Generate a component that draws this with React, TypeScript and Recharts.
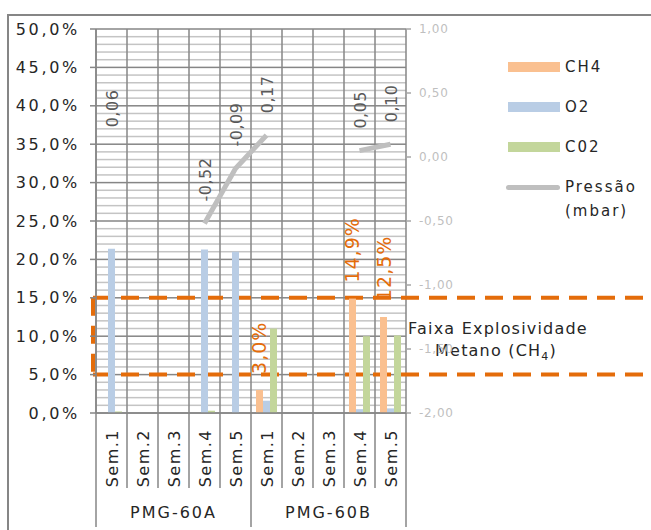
import React from "react";
import {
  ComposedChart, Bar, Line, XAxis, YAxis, Legend, LabelList, ReferenceArea,
} from "recharts";

// ─── Data ─────────────────────────────────────────────────────────────────────
const groups = ["PMG-60A", "PMG-60B"];
const weeks = ["Sem.1", "Sem.2", "Sem.3", "Sem.4", "Sem.5"];
const ch4 = [0.0, null, null, 0.0, 0.0, 3.0, null, null, 14.9, 12.5];
const o2 = [21.4, null, null, 21.3, 21.0, 1.6, null, null, 0.5, 0.6];
const co2 = [0.2, null, null, 0.3, 0.0, 11.0, null, null, 10.0, 10.1];
const pressao = [0.06, null, null, -0.52, -0.09, 0.17, null, null, 0.05, 0.1];
const seriesNames = ["CH4", "O2", "C02", "Pressão (mbar)"];
const pctTicks = [0, 5, 10, 15, 20, 25, 30, 35, 40, 45, 50];
const mbarTicks = [-2, -1.5, -1, -0.5, 0, 0.5, 1];
const faixaCH4 = [5, 15];

const data = groups.flatMap((g, gi) =>
  weeks.map((w, wi) => {
    const i = gi * weeks.length + wi;
    return { id: `${g}|${w}`, group: g, sem: w, ch4: ch4[i], o2: o2[i], co2: co2[i], pressao: pressao[i] };
  })
);

// ─── Style ────────────────────────────────────────────────────────────────────
const FONT = "'DejaVu Sans', Verdana, sans-serif";
const TEXT = "#262626";
const GRID = "#868686";
const MINOR = "#c4c4c4";
const ORANGE = "#E46C0A";
const COLORS = { ch4: "#FAC090", o2: "#B9CDE5", co2: "#C3D69B", pressao: "#BFBFBF" };

const W = 651, H = 530;
const M = { top: 29, right: 185, bottom: 2, left: 0 };
const LEFT_W = 96, RIGHT_W = 60, X_H = 115;
const PLOT_W = W - M.right - RIGHT_W - M.left - LEFT_W;
const BAND = PLOT_W / data.length;
const PCT_MIN = pctTicks[0];
const PCT_MAX = pctTicks[pctTicks.length - 1];
const minorTicks = Array.from({ length: PCT_MAX }, (_, i) => i).filter((v) => v % 5 !== 0);

const fmtPct = (v: number) => `${v.toFixed(1).replace(".", ",")}%`;
const fmtMbar = (v: number) => v.toFixed(2).replace(".", ",");

// ─── Labels / ticks ───────────────────────────────────────────────────────────
function Ch4Label({ x, y, width, value }: any) {
  if (value == null) return null;
  const ax = x + width / 2 + 7, ay = y - 16;
  return (
    <text x={ax} y={ay} transform={`rotate(-90 ${ax} ${ay})`} fill={ORANGE}
      fontSize={19} fontFamily={FONT} letterSpacing={1}>{fmtPct(value)}</text>
  );
}

function PressaoLabel({ x, y, value }: any) {
  if (value == null || y == null) return null;
  const ax = x + 7, ay = y - 22;
  return (
    <text x={ax} y={ay} transform={`rotate(-90 ${ax} ${ay})`} fill="#595959"
      fontSize={16} fontFamily={FONT} letterSpacing={0.5}>{fmtMbar(value)}</text>
  );
}

function SemTick({ x, y, index }: any) {
  const d = data[index];
  if (!d) return null;
  const pos = index % weeks.length;
  const left = x - BAND / 2;
  const ax = x + 6, ay = y + 16;
  return (
    <g>
      <line x1={left} y1={y} x2={left} y2={y + (pos === 0 ? 114 : 75)} stroke={GRID} strokeWidth={1.5} />
      {index === data.length - 1 && (
        <line x1={x + BAND / 2} y1={y} x2={x + BAND / 2} y2={y + 114} stroke={GRID} strokeWidth={1.5} />
      )}
      <text x={ax} y={ay} transform={`rotate(-90 ${ax} ${ay})`} textAnchor="end" fill={TEXT}
        fontSize={16} fontFamily={FONT} letterSpacing={1.5}>{d.sem}</text>
      {pos === Math.floor(weeks.length / 2) && (
        <text x={x} y={y + 105} textAnchor="middle" fill={TEXT} fontSize={16} fontFamily={FONT}
          letterSpacing={2}>{d.group}</text>
      )}
    </g>
  );
}

// plot grid: minor 1% rows, major 5% rows, and category boundaries
function GridShape({ x, y, width, height }: any) {
  const top = Math.min(y, y + height);
  const h = Math.abs(height);
  const row = (v: number) => top + (h * (PCT_MAX - v)) / (PCT_MAX - PCT_MIN);
  const cols = Array.from({ length: data.length + 1 }, (_, i) => x + (i * width) / data.length);
  return (
    <g>
      {minorTicks.map((v) => (
        <rect key={`m${v}`} x={x} y={row(v) - 0.75} width={width} height={1.5} fill={MINOR} />
      ))}
      {pctTicks.map((v) => (
        <rect key={`M${v}`} x={x} y={row(v) - 0.75} width={width} height={1.5} fill={GRID} />
      ))}
      {cols.map((c, i) => (
        <rect key={`c${i}`} x={c - 0.75} y={top} width={1.5} height={h} fill={GRID} />
      ))}
    </g>
  );
}

function FaixaShape({ x, y, width, height }: any) {
  const x0 = x - 3;
  const cx = x + width + 92;
  return (
    <g>
      <path d={`M${x0},${y} H${W} M${x0},${y + height} H${W} M${x0},${y} V${y + height}`}
        stroke={ORANGE} strokeWidth={4} strokeDasharray="18 10" fill="none" />
      <text x={cx} y={y + 36} textAnchor="middle" fill={TEXT} fontSize={16} fontFamily={FONT}
        letterSpacing={1.2}>Faixa Explosividade</text>
      <text x={cx - 2} y={y + 58} textAnchor="middle" fill={TEXT} fontSize={16} fontFamily={FONT}
        letterSpacing={1.2}>
        Metano (CH<tspan fontSize={11} dy={4}>4</tspan><tspan dy={-4}>)</tspan>
      </text>
    </g>
  );
}

function LegendContent({ payload }: any) {
  const items = [...(payload ?? [])].sort(
    (a: any, b: any) => seriesNames.indexOf(a.value) - seriesNames.indexOf(b.value)
  );
  return (
    <div style={{ fontFamily: FONT }}>
      {items.map((p: any) => (
        <div key={p.value} style={{ display: "flex", alignItems: "flex-start", height: 40 }}>
          <div style={{ width: 54, height: 24, display: "flex", alignItems: "center", justifyContent: "flex-end" }}>
            {p.type === "line"
              ? <div style={{ width: 54, height: 5, borderRadius: 3, background: p.color }} />
              : <div style={{ width: 52, height: 10, background: p.color }} />}
          </div>
          <div style={{ marginLeft: 5, width: 84, fontSize: 15, letterSpacing: 2, lineHeight: "24px", color: TEXT }}>
            {p.value}
          </div>
        </div>
      ))}
    </div>
  );
}

// ─── Chart ────────────────────────────────────────────────────────────────────
export default function App() {
  return (
    <div style={{ position: "absolute", left: 0, top: 0, width: W, height: H, overflow: "hidden", background: "#fff" }}>
      <div style={{
        position: "absolute", left: 7, top: 14, right: 0, bottom: 0,
        borderTop: `2px solid ${GRID}`, borderLeft: `2px solid ${GRID}`,
      }} />
      <ComposedChart width={W} height={H} data={data} margin={M} barCategoryGap={5} barGap={0}
        style={{ fontFamily: FONT }}>
        <ReferenceArea yAxisId="left" y1={PCT_MIN} y2={PCT_MAX} ifOverflow="visible" shape={<GridShape />} />
        <XAxis dataKey="id" interval={0} height={X_H} tickSize={0} tickMargin={0} tickLine={false}
          axisLine={{ stroke: GRID, strokeWidth: 1.5 }} tick={<SemTick />} />
        <YAxis yAxisId="left" domain={[PCT_MIN, PCT_MAX]} ticks={pctTicks} interval={0} width={LEFT_W}
          tickFormatter={fmtPct} tickSize={6} tickMargin={10}
          tick={{ fontSize: 16, fill: TEXT, fontFamily: FONT, letterSpacing: 2.7 }}
          tickLine={{ stroke: GRID, strokeWidth: 1.5 }} axisLine={{ stroke: GRID, strokeWidth: 1.5 }} />
        <YAxis yAxisId="right" orientation="right" domain={[mbarTicks[0], mbarTicks[mbarTicks.length - 1]]}
          ticks={mbarTicks} interval={0} width={RIGHT_W} tickFormatter={fmtMbar} tickSize={5} tickMargin={8}
          tick={{ fontSize: 12, fill: "#bfbfbf", fontFamily: FONT, letterSpacing: 0.7 }}
          tickLine={{ stroke: "#a6a6a6", strokeWidth: 1.5 }} axisLine={false} />
        <ReferenceArea yAxisId="left" y1={faixaCH4[0]} y2={faixaCH4[1]} ifOverflow="visible" shape={<FaixaShape />} />
        <Bar yAxisId="left" dataKey="ch4" name={seriesNames[0]} fill={COLORS.ch4} legendType="rect" isAnimationActive={false}>
          <LabelList dataKey="ch4" content={<Ch4Label />} />
        </Bar>
        <Bar yAxisId="left" dataKey="o2" name={seriesNames[1]} fill={COLORS.o2} legendType="rect" isAnimationActive={false} />
        <Bar yAxisId="left" dataKey="co2" name={seriesNames[2]} fill={COLORS.co2} legendType="rect" isAnimationActive={false} />
        <Line yAxisId="right" dataKey="pressao" name={seriesNames[3]} stroke={COLORS.pressao} strokeWidth={5}
          strokeLinecap="butt" dot={false} activeDot={false} connectNulls={false} legendType="line" isAnimationActive={false}>
          <LabelList dataKey="pressao" content={<PressaoLabel />} />
        </Line>
        <Legend layout="horizontal" verticalAlign="middle" align="center" width={146}
          wrapperStyle={{ position: "absolute", left: 506, top: 55, width: 146 }} content={<LegendContent />} />
      </ComposedChart>
    </div>
  );
}
